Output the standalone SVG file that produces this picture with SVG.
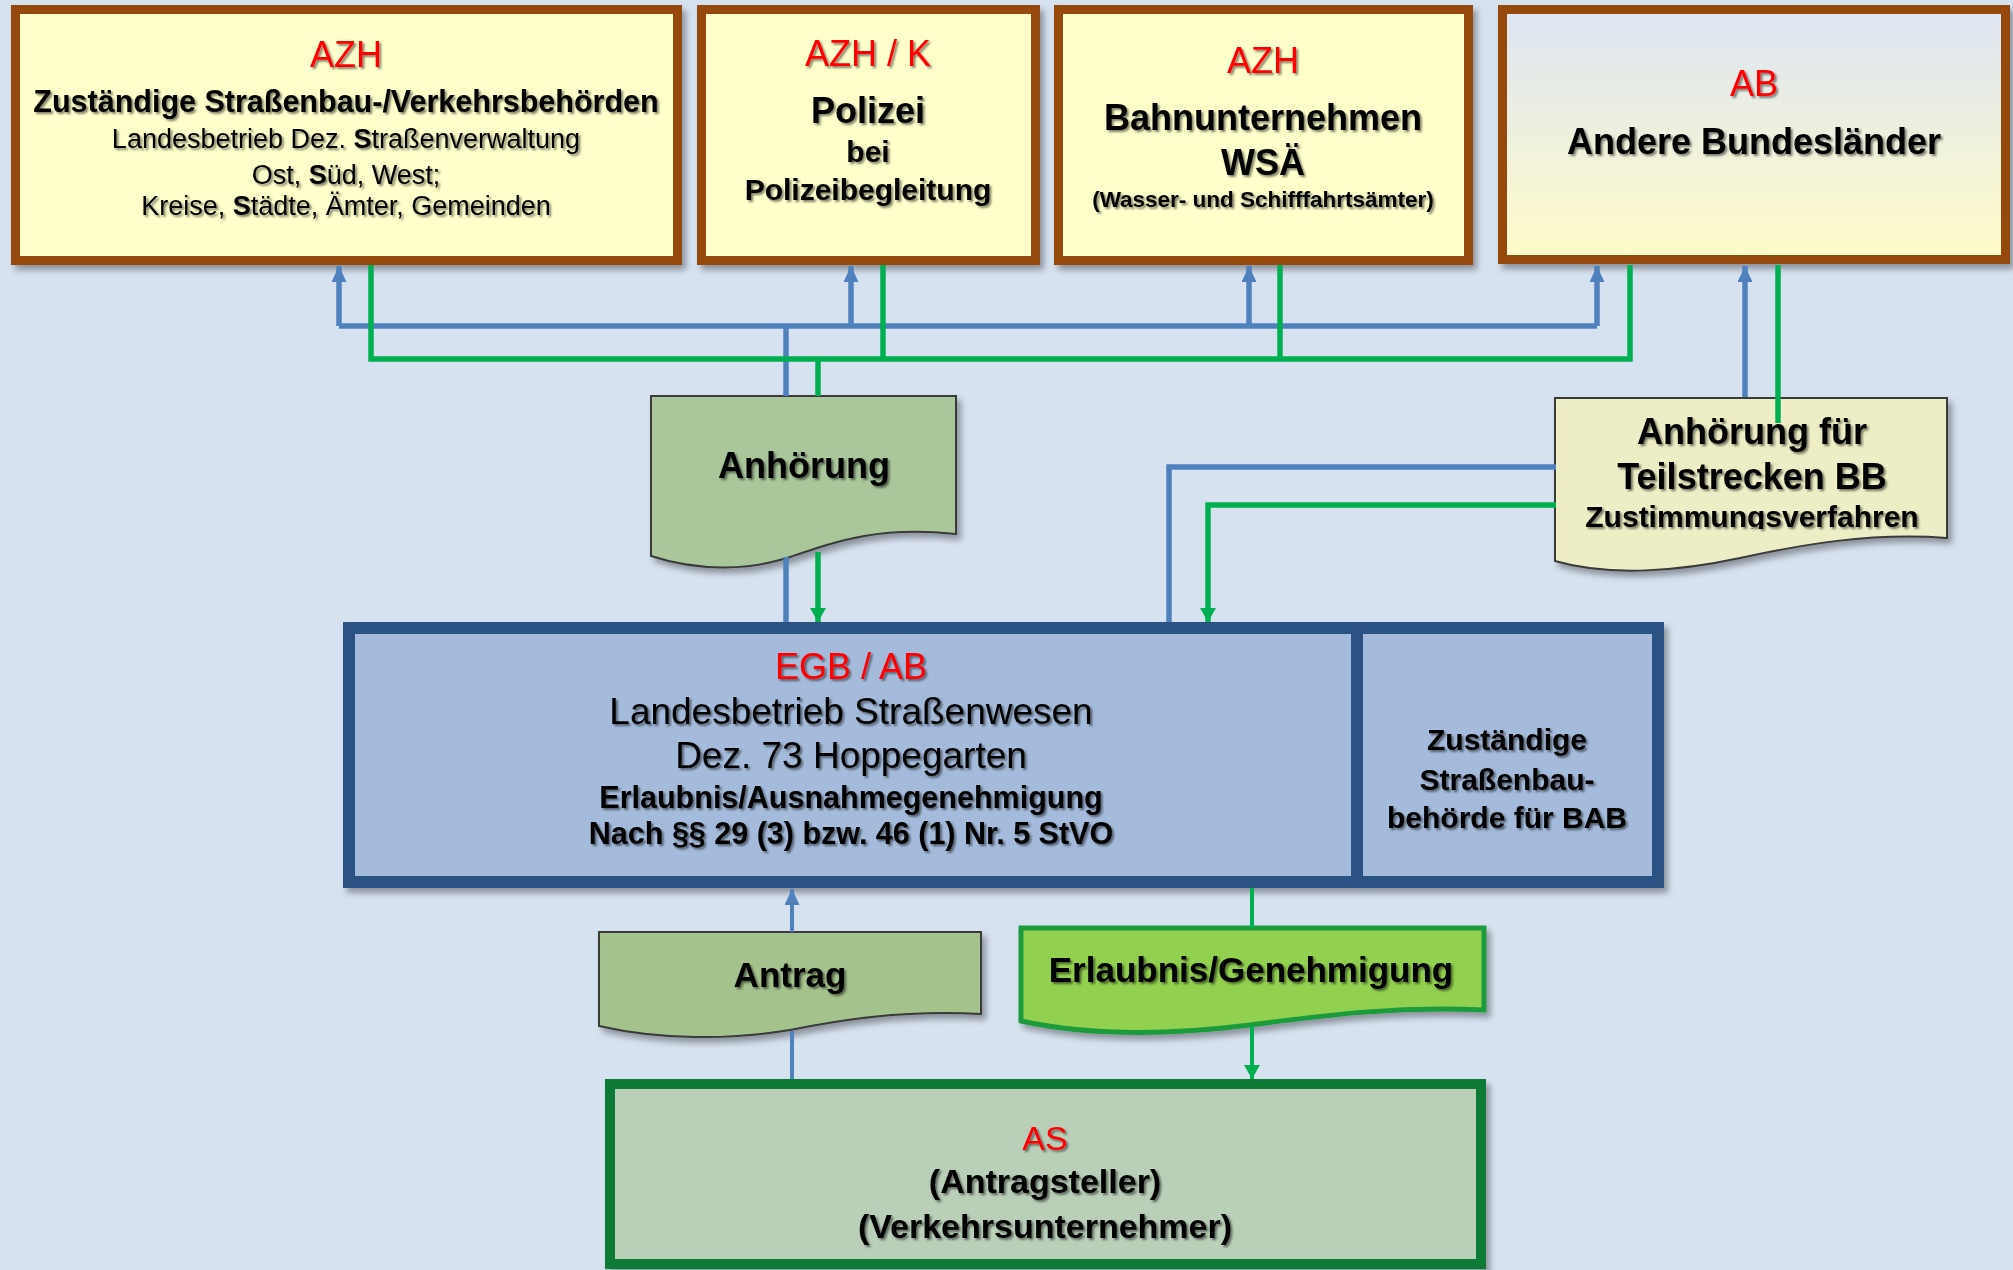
<svg xmlns="http://www.w3.org/2000/svg" width="2013" height="1270" viewBox="0 0 2013 1270">
<defs>
<style>
text{font-family:"Liberation Sans",Arial,sans-serif;text-anchor:middle;fill:#000;}
.red{fill:#ff0000;font-weight:normal;}
.b{font-weight:bold;}
.tx{filter:url(#tsh);}
.brown{fill:#ffffcc;stroke:#964a0c;stroke-width:9;filter:url(#bsh);}
.doc{stroke:#3a3a3a;stroke-width:2;filter:url(#bsh);}
.bl{fill:none;stroke:#4f81bd;stroke-width:5.5;}
.gr{fill:none;stroke:#00b050;stroke-width:5.5;}
.bl2{fill:none;stroke:#4f81bd;stroke-width:4;}
.gr2{fill:none;stroke:#00b050;stroke-width:4;}
</style>
<filter id="bsh" x="-5%" y="-5%" width="115%" height="125%">
<feDropShadow dx="4" dy="5" stdDeviation="3" flood-color="#000" flood-opacity="0.35"/>
</filter>
<filter id="tsh" x="-5%" y="-20%" width="110%" height="150%">
<feDropShadow dx="2" dy="2" stdDeviation="1.2" flood-color="#000" flood-opacity="0.5"/>
</filter>
<linearGradient id="abg" x1="0" y1="0" x2="0" y2="1">
<stop offset="0" stop-color="#dde5f3"/>
<stop offset="1" stop-color="#fffcc8"/>
</linearGradient>
<clipPath id="clipZ"><rect x="1555" y="398" width="392" height="131"/></clipPath>
<marker id="ab" markerUnits="userSpaceOnUse" markerWidth="16" markerHeight="15" viewBox="0 0 16 15" refX="16" refY="7.5" orient="auto">
<path d="M0,0 L16,7.5 L0,15 Z" fill="#4f81bd"/>
</marker>
<marker id="ag" markerUnits="userSpaceOnUse" markerWidth="14" markerHeight="16" viewBox="0 0 14 16" refX="14" refY="8" orient="auto">
<path d="M0,0 L14,8 L0,16 Z" fill="#00b050"/>
</marker>
</defs>
<rect x="0" y="0" width="2013" height="1270" fill="#d7e2f0"/>

<g id="node-azh-strassen">
<rect class="brown" x="15.5" y="9.5" width="662" height="251"/>
<g class="tx">
<text class="red" x="346" y="67" font-size="36">AZH</text>
<text class="b" x="346" y="112" font-size="30.5">Zuständige Straßenbau-/Verkehrsbehörden</text>
<text x="346" y="148" font-size="27">Landesbetrieb Dez. <tspan class="b">S</tspan>traßenverwaltung</text>
<text x="346" y="184" font-size="27">Ost, <tspan class="b">S</tspan>üd, West;</text>
<text x="346" y="215" font-size="27">Kreise, <tspan class="b">S</tspan>tädte, Ämter, Gemeinden</text>
</g>
</g>

<g id="node-azh-polizei">
<rect class="brown" x="701.5" y="9.5" width="334" height="251"/>
<g class="tx">
<text class="red" x="868" y="66" font-size="36">AZH / K</text>
<text class="b" x="868" y="123" font-size="36">Polizei</text>
<text class="b" x="868" y="162" font-size="30">bei</text>
<text class="b" x="868" y="200" font-size="30">Polizeibegleitung</text>
</g>
</g>

<g id="node-azh-bahn">
<rect class="brown" x="1058.5" y="9.5" width="410" height="251"/>
<g class="tx">
<text class="red" x="1263" y="73" font-size="36">AZH</text>
<text class="b" x="1263" y="130" font-size="36">Bahnunternehmen</text>
<text class="b" x="1263" y="175" font-size="36">WSÄ</text>
<text class="b" x="1263" y="207" font-size="22.5">(Wasser- und Schifffahrtsämter)</text>
</g>
</g>

<g id="node-ab-laender">
<rect class="brown" x="1502.5" y="9.5" width="503" height="250" style="fill:url(#abg)"/>
<g class="tx">
<text class="red" x="1754" y="96" font-size="36">AB</text>
<text class="b" x="1754" y="154" font-size="36">Andere Bundesländer</text>
</g>
</g>

<g id="node-anhoerung">
<path class="doc" fill="#a9c79b" d="M651,396 H956 V534 C880,526 840,540 790,557 C750,570 700,572 651,556 Z"/>
<text class="b tx" x="804" y="478" font-size="36">Anhörung</text>
</g>

<g id="node-anhoerung-bb">
<path class="doc" fill="#eeeec6" d="M1555,398 H1947 V538 C1870,532 1800,545 1740,558 C1680,571 1610,577 1555,561 Z"/>
<g class="tx">
<text class="b" x="1752" y="444" font-size="36">Anhörung für</text>
<text class="b" x="1752" y="489" font-size="36">Teilstrecken BB</text>
<text class="b" x="1752" y="527" font-size="30" clip-path="url(#clipZ)">Zustimmungsverfahren</text>
</g>
</g>

<g id="node-egb">
<rect x="349" y="628" width="1309" height="254" fill="#a4bbdb" stroke="#2c5283" stroke-width="12" filter="url(#bsh)"/>
<line x1="1357" y1="622" x2="1357" y2="888" stroke="#2c5283" stroke-width="12"/>
<g class="tx">
<text class="red" x="851" y="679" font-size="36">EGB / AB</text>
<text x="851" y="724" font-size="37">Landesbetrieb Straßenwesen</text>
<text x="851" y="768" font-size="37">Dez. 73 Hoppegarten</text>
<text class="b" x="851" y="808" font-size="30.5">Erlaubnis/Ausnahmegenehmigung</text>
<text class="b" x="851" y="844" font-size="30.5">Nach §§ 29 (3) bzw. 46 (1) Nr. 5 StVO</text>
</g>
</g>

<g id="node-bab">
<g class="tx">
<text class="b" x="1507" y="750" font-size="30">Zuständige</text>
<text class="b" x="1507" y="790" font-size="30">Straßenbau-</text>
<text class="b" x="1507" y="828" font-size="30">behörde für BAB</text>
</g>
</g>

<g id="node-antrag">
<path class="doc" fill="#a4c38c" d="M599,932 H981 V1014 C900,1010 840,1020 790,1030 C730,1040 660,1040 599,1026 Z"/>
<text class="b tx" x="790" y="987" font-size="35">Antrag</text>
</g>

<g id="node-erlaubnis">
<path fill="#92d050" stroke="#1e9b3c" stroke-width="5" filter="url(#bsh)" d="M1021,928 H1484 V1010 C1390,1006 1320,1016 1250,1025 C1170,1035 1090,1036 1021,1021 Z"/>
<text class="b tx" x="1251" y="982" font-size="35">Erlaubnis/Genehmigung</text>
</g>

<g id="node-as">
<rect x="610" y="1084" width="871" height="180" fill="#b9cfb8" stroke="#0f7a35" stroke-width="10" filter="url(#bsh)"/>
<g class="tx">
<text class="red" x="1045" y="1150" font-size="34">AS</text>
<text class="b" x="1045" y="1193" font-size="34">(Antragsteller)</text>
<text class="b" x="1045" y="1238" font-size="34">(Verkehrsunternehmer)</text>
</g>
</g>

<g id="connectors">
<path class="bl" d="M786,622 V557"/>
<path class="bl" d="M786,396 V326"/>
<path class="bl" d="M339,326 H1597"/>
<path class="bl" d="M339,326 V266" marker-end="url(#ab)"/>
<path class="bl" d="M851,326 V266" marker-end="url(#ab)"/>
<path class="bl" d="M1249,326 V266" marker-end="url(#ab)"/>
<path class="bl" d="M1597,326 V266" marker-end="url(#ab)"/>
<path class="bl" d="M1169,622 V467 H1556"/>
<path class="bl" d="M1745,397 V266" marker-end="url(#ab)"/>
<path class="gr" d="M371,265 V359 H1630 V265"/>
<path class="gr" d="M883,265 V359"/>
<path class="gr" d="M1280,265 V359"/>
<path class="gr" d="M818,359 V396"/>
<path class="gr" d="M818,552 V622" marker-end="url(#ag)"/>
<path class="gr" d="M1778,265 V423"/>
<path class="gr" d="M1556,505 H1208 V622" marker-end="url(#ag)"/>
<path class="bl2" d="M792,1079 V1031"/>
<path class="bl2" d="M792,932 V889" marker-end="url(#ab)"/>
<path class="gr2" d="M1252,888 V928"/>
<path class="gr2" d="M1252,1026 V1079" marker-end="url(#ag)"/>
</g>
</svg>
